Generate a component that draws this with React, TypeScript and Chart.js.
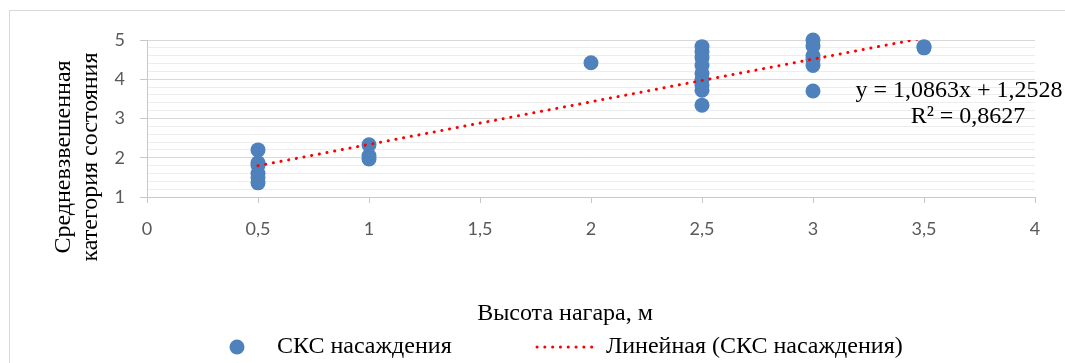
import React, { useEffect, useRef } from 'react';
import { Chart, registerables } from 'chart.js';

Chart.register(...registerables);

// ---- data ----
const nagarHeight = [
  0.5, 0.5, 0.5, 0.5, 0.5, 0.5,
  1, 1, 1,
  2,
  2.5, 2.5, 2.5, 2.5, 2.5, 2.5, 2.5, 2.5, 2.5,
  3, 3, 3, 3, 3, 3,
  3.5, 3.5,
];
const skcValues = [
  2.2, 1.87, 1.8, 1.6, 1.5, 1.36,
  2.33, 2.05, 1.97,
  4.42,
  4.83, 4.7, 4.55, 4.35, 4.15, 4.0, 3.85, 3.72, 3.34,
  5.0, 4.85, 4.6, 4.5, 4.35, 3.7,
  4.8, 4.83,
];
const trendSlope = 1.0863;
const trendIntercept = 1.2528;
const rSquared = 0.8627;

const xMin = 0;
const xMax = 4;
const xStep = 0.5;
const yMin = 1;
const yMax = 5;
const yMinorStep = 0.2;

const seriesName = 'СКС насаждения';
const trendName = 'Линейная (СКС насаждения)';
const xTitle = 'Высота нагара, м';
const yTitle = ['Средневзвешенная', 'категория состояния'];

const SERIF = "'Liberation Serif', 'Times New Roman', serif";
const SANS = 'Lato, sans-serif';
const BLUE = '#4F81BD';
const RED = '#FF0000';
const AXIS = '#C8C8C8';

const comma = (v: number, d?: number) =>
  (d === undefined ? String(v) : v.toFixed(d)).replace('.', ',');

const isMajor = (v: number) => Math.abs(v - Math.round(v)) < 1e-6;

export default function App() {
  const ref = useRef<HTMLCanvasElement | null>(null);

  useEffect(() => {
    const canvas = ref.current;
    if (!canvas) return;

    const points = nagarHeight.map((x, i) => ({ x, y: skcValues[i] }));
    const tx0 = Math.min(...nagarHeight);
    const tx1 = Math.max(...nagarHeight);
    const trend = [
      { x: tx0, y: trendSlope * tx0 + trendIntercept },
      { x: tx1, y: trendSlope * tx1 + trendIntercept },
    ];

    const decor = {
      id: 'decor',
      beforeDraw(chart: any) {
        const ctx = chart.ctx;
        ctx.save();
        ctx.fillStyle = '#fff';
        ctx.fillRect(0, 0, chart.width, chart.height);
        ctx.strokeStyle = '#D9D9D9';
        ctx.lineWidth = 1;
        ctx.strokeRect(9.5, 10.5, chart.width + 20, chart.height + 20);
        ctx.restore();
      },
      afterDraw(chart: any) {
        const ctx = chart.ctx;
        ctx.save();
        ctx.fillStyle = '#000';
        ctx.font = `24px ${SERIF}`;
        ctx.textBaseline = 'middle';
        ctx.textAlign = 'center';
        // y title
        ctx.save();
        ctx.translate(64, 157);
        ctx.rotate(-Math.PI / 2);
        ctx.fillText(yTitle[0], 0, 0);
        ctx.fillText(yTitle[1], 0, 27);
        ctx.restore();
        // x title
        ctx.fillText(xTitle, 565, 314);
        // equation
        ctx.fillText(`y = ${comma(trendSlope, 4)}x + ${comma(trendIntercept, 4)}`, 959, 91);
        ctx.fillText(`R² = ${comma(rSquared, 4)}`, 968, 117);
        // legend
        const ly = 347;
        ctx.fillStyle = BLUE;
        ctx.beginPath();
        ctx.arc(237, ly, 7.5, 0, Math.PI * 2);
        ctx.fill();
        ctx.fillStyle = '#000';
        ctx.textAlign = 'left';
        ctx.fillText(seriesName, 277, ly);
        ctx.strokeStyle = RED;
        ctx.lineWidth = 3;
        ctx.lineCap = 'round';
        ctx.setLineDash([0.1, 7.7]);
        ctx.beginPath();
        ctx.moveTo(537, ly);
        ctx.lineTo(597, ly);
        ctx.stroke();
        ctx.setLineDash([]);
        ctx.fillText(trendName, 606, ly);
        ctx.restore();
      },
    };

    const chart = new Chart(canvas, {
      type: 'scatter',
      data: {
        datasets: [
          {
            label: seriesName,
            data: points,
            backgroundColor: BLUE,
            borderWidth: 0,
            pointRadius: 7.5,
            pointHoverRadius: 7.5,
            clip: false as any,
            order: 2,
          },
          {
            type: 'line',
            label: trendName,
            data: trend,
            borderColor: RED,
            borderWidth: 3,
            borderDash: [0.1, 7.7],
            borderCapStyle: 'round',
            pointRadius: 0,
            fill: false,
            order: 1,
          } as any,
        ],
      },
      options: {
        animation: false,
        responsive: false,
        maintainAspectRatio: false,
        events: [],
        layout: { padding: { top: 40, right: 30, left: 0, bottom: 0 } },
        plugins: {
          legend: { display: false },
          tooltip: { enabled: false },
        },
        scales: {
          x: {
            type: 'linear',
            min: xMin,
            max: xMax,
            afterFit: (s: any) => {
              s.height = 166;
            },
            ticks: {
              stepSize: xStep,
              autoSkip: false,
              maxRotation: 0,
              padding: 15,
              color: '#595959',
              font: { family: SANS, size: 18 },
              callback: (v: any) => comma(Number(v)),
            },
            grid: {
              drawOnChartArea: false,
              drawTicks: true,
              tickLength: 6,
              tickColor: AXIS,
            },
            border: { display: true, color: AXIS },
          },
          y: {
            type: 'linear',
            min: yMin,
            max: yMax,
            afterFit: (s: any) => {
              s.width = 147;
            },
            ticks: {
              stepSize: yMinorStep,
              autoSkip: false,
              padding: 15,
              color: '#595959',
              font: { family: SANS, size: 18 },
              callback: (v: any) => (isMajor(Number(v)) ? String(Math.round(Number(v))) : ''),
            },
            grid: {
              drawTicks: true,
              tickLength: 7,
              color: (c: any) => (c.tick && isMajor(c.tick.value) ? '#D9D9D9' : '#EDEDED'),
              tickColor: (c: any) => (c.tick && isMajor(c.tick.value) ? AXIS : 'rgba(0,0,0,0)'),
            },
            border: { display: true, color: AXIS },
          },
        },
      },
      plugins: [decor],
    });

    return () => chart.destroy();
  }, []);

  return (
    <div style={{ position: 'fixed', left: 0, top: 0, width: 1065, height: 363, overflow: 'hidden', background: '#fff' }}>
      <canvas ref={ref} width={1065} height={363} style={{ display: 'block', width: 1065, height: 363 }} />
    </div>
  );
}
